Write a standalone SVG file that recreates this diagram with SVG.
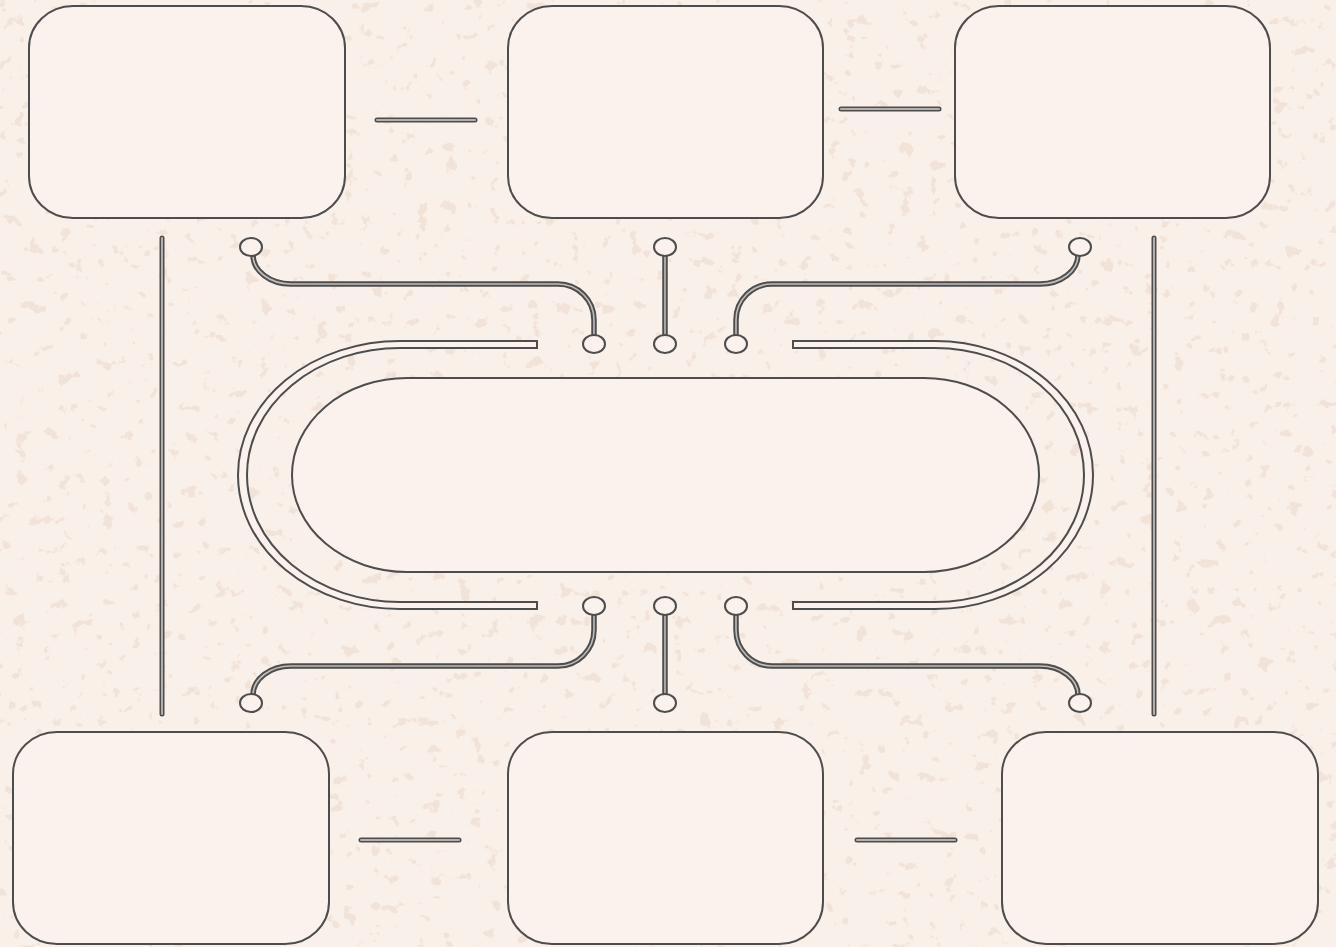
<svg xmlns="http://www.w3.org/2000/svg" width="1336" height="947" viewBox="0 0 1336 947">
  <defs>
    <style>
      .box { fill: #fbf2ed; stroke: #4d4d4d; stroke-width: 2; }
      .band { fill: #fbf2ed; stroke: #4d4d4d; stroke-width: 2; }
      .co { fill: none; stroke: #4d4d4d; stroke-width: 5.5; }
      .ci { fill: none; stroke: #c2bcb8; stroke-width: 1.6; }
      .lo { fill: none; stroke: #4d4d4d; stroke-width: 5; stroke-linecap: round; }
      .li { fill: none; stroke: #b5afab; stroke-width: 2; stroke-linecap: round; }
      .dot { fill: #fbf2ed; stroke: #4d4d4d; stroke-width: 2; }
    </style>
    <filter id="speck" x="0" y="0" width="100%" height="100%" color-interpolation-filters="sRGB">
      <feTurbulence type="fractalNoise" baseFrequency="0.07" numOctaves="3" seed="11" result="n"/>
      <feColorMatrix in="n" type="matrix" values="0 0 0 0 0.93  0 0 0 0 0.86  0 0 0 0 0.81  16 0 0 0 -10.6" />
    </filter>
  </defs>
  <rect width="1336" height="947" fill="#faf0ea"/>
  <rect width="1336" height="947" filter="url(#speck)" opacity="0.6"/>

  <g id="connectors">
    <!-- short horizontal links -->
    <path class="lo" d="M377,120 H475"/><path class="li" d="M377,120 H475"/>
    <path class="lo" d="M841,109 H939"/><path class="li" d="M841,109 H939"/>
    <path class="lo" d="M361,840 H459"/><path class="li" d="M361,840 H459"/>
    <path class="lo" d="M857,840 H955"/><path class="li" d="M857,840 H955"/>
    <!-- long vertical side lines -->
    <path class="lo" d="M162,238 V714"/><path class="li" d="M162,238 V714"/>
    <path class="lo" d="M1154,238 V714"/><path class="li" d="M1154,238 V714"/>
    <!-- top connectors -->
    <path class="co" d="M253,255 A38,29 0 0 0 291,284 H558 A36,36 0 0 1 594,320 V336"/>
    <path class="ci" d="M253,255 A38,29 0 0 0 291,284 H558 A36,36 0 0 1 594,320 V336"/>
    <path class="co" d="M665,255 V336"/><path class="ci" d="M665,255 V336"/>
    <path class="co" d="M736,336 V320 A36,36 0 0 1 772,284 H1040 A38,29 0 0 0 1078,255"/>
    <path class="ci" d="M736,336 V320 A36,36 0 0 1 772,284 H1040 A38,29 0 0 0 1078,255"/>
    <!-- bottom connectors -->
    <path class="co" d="M594,614 V630 A36,36 0 0 1 558,666 H291 A38,29 0 0 0 253,695"/>
    <path class="ci" d="M594,614 V630 A36,36 0 0 1 558,666 H291 A38,29 0 0 0 253,695"/>
    <path class="co" d="M665,614 V695"/><path class="ci" d="M665,614 V695"/>
    <path class="co" d="M736,614 V630 A36,36 0 0 0 772,666 H1040 A38,29 0 0 1 1078,695"/>
    <path class="ci" d="M736,614 V630 A36,36 0 0 0 772,666 H1040 A38,29 0 0 1 1078,695"/>
    <!-- end dots -->
    <ellipse class="dot" cx="251" cy="247" rx="11" ry="9"/>
    <ellipse class="dot" cx="665" cy="247" rx="11" ry="9"/>
    <ellipse class="dot" cx="1080" cy="247" rx="11" ry="9"/>
    <ellipse class="dot" cx="594" cy="344" rx="11" ry="9"/>
    <ellipse class="dot" cx="665" cy="344" rx="11" ry="9"/>
    <ellipse class="dot" cx="736" cy="344" rx="11" ry="9"/>
    <ellipse class="dot" cx="594" cy="606" rx="11" ry="9"/>
    <ellipse class="dot" cx="665" cy="606" rx="11" ry="9"/>
    <ellipse class="dot" cx="736" cy="606" rx="11" ry="9"/>
    <ellipse class="dot" cx="251" cy="703" rx="11" ry="9"/>
    <ellipse class="dot" cx="665" cy="703" rx="11" ry="9"/>
    <ellipse class="dot" cx="1080" cy="703" rx="11" ry="9"/>
  </g>

  <g id="band-left">
    <path class="band" d="M537,341 H400 A162,134 0 0 0 400,609 H537 V602 H400 A153,127 0 0 1 400,348 H537 Z"/>
  </g>
  <g id="band-right">
    <path class="band" d="M793,341 H935 A158,134 0 0 1 935,609 H793 V602 H935 A149,127 0 0 0 935,348 H793 Z"/>
  </g>

  <g id="center">
    <rect class="box" x="292" y="378" width="747" height="194" rx="115" ry="97"/>
  </g>

  <g id="node-tl"><rect class="box" x="29" y="6" width="316" height="212" rx="44" ry="42"/></g>
  <g id="node-tm"><rect class="box" x="508" y="6" width="315" height="212" rx="44" ry="42"/></g>
  <g id="node-tr"><rect class="box" x="955" y="6" width="315" height="212" rx="44" ry="42"/></g>
  <g id="node-bl"><rect class="box" x="13" y="732" width="316" height="212" rx="44" ry="42"/></g>
  <g id="node-bm"><rect class="box" x="508" y="732" width="315" height="212" rx="44" ry="42"/></g>
  <g id="node-br"><rect class="box" x="1002" y="732" width="316" height="212" rx="44" ry="42"/></g>
</svg>
